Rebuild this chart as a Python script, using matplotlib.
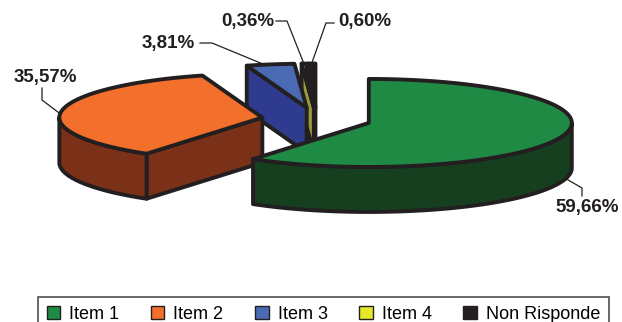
import numpy as np
import matplotlib.pyplot as plt
from matplotlib.patches import Polygon, Patch

labels = ['Item 1', 'Item 2', 'Item 3', 'Item 4', 'Non Risponde']
values = [59.66, 35.57, 3.81, 0.36, 0.60]
top_colors = ['#1f8a44', '#f26f2c', '#4a6ab3', '#e6e62a', '#231f20']
side_colors = ['#153f1e', '#7b3117', '#2e3b8f', '#9b9b3a', '#231f20']

# pie geometry, in pixel units of the canvas
CX, CY = 316.5, 119.4
RX, RY = 203.0, 44.0
DEPTH = 45.0
EXPLODE = 0.27
EDGE = '#231f20'
LW = 2.8

# leader lines: anchor angle on the slice, drop below the top rim, elbow points, text position
label_layout = [
    (-14.0, DEPTH, [(582, 188), (582, 196)], (587, 207)),
    (175.0, 0.0, [(42, 100), (42, 88)], (45, 77)),
    (102.0, 0.0, [(212, 43), (200, 43)], (168, 43)),
    (None, 0.0, [(287, 21), (276, 21)], (248, 21)),
    (None, 0.0, [(326, 23), (334, 23)], (365, 21)),
]


def rim(cx, cy, t, drop=0.0):
    t = np.radians(t)
    return np.column_stack([cx + RX * np.cos(t), cy - RY * np.sin(t) + drop])


def add_poly(ax, pts, color, z):
    ax.add_patch(Polygon(pts, closed=True, facecolor=color, edgecolor=EDGE,
                         lw=LW, joinstyle='round', zorder=z))


fig = plt.figure(figsize=(6.22, 3.22), dpi=100)
ax = fig.add_axes([0, 0, 1, 1])
ax.set_xlim(0, 622)
ax.set_ylim(322, 0)
ax.axis('off')

total = float(sum(values))
bounds = 90 - 360 * np.concatenate([[0], np.cumsum(values)]) / total
slices = []
for i in range(len(values)):
    t1, t2 = bounds[i], bounds[i + 1]
    mid = (t1 + t2) / 2
    cx = CX + EXPLODE * RX * np.cos(np.radians(mid))
    cy = CY - EXPLODE * RY * np.sin(np.radians(mid))
    slices.append((i, t1, t2, mid, cx, cy))

# back slices first
order = sorted(slices, key=lambda s: -np.sin(np.radians(s[3])))
for k, (i, t1, t2, mid, cx, cy) in enumerate(order):
    z = 2 + 3 * k
    centre = np.array([[cx, cy]])
    centre_low = np.array([[cx, cy + DEPTH]])

    # cut faces turned towards the viewer
    if np.cos(np.radians(t1)) < 0:
        quad = np.vstack([centre, rim(cx, cy, [t1]), rim(cx, cy, [t1], DEPTH), centre_low])
        add_poly(ax, quad, side_colors[i], z)
    if np.cos(np.radians(t2)) > 0:
        quad = np.vstack([centre, rim(cx, cy, [t2]), rim(cx, cy, [t2], DEPTH), centre_low])
        add_poly(ax, quad, side_colors[i], z)

    # outer wall on the front half
    ts = np.linspace(t2, t1, 400)
    front = np.sin(np.radians(ts)) < 0
    if front.any():
        idx = np.where(front)[0]
        runs = np.split(idx, np.where(np.diff(idx) > 1)[0] + 1)
        for run in runs:
            tr = ts[run]
            wall = np.vstack([rim(cx, cy, tr), rim(cx, cy, tr[::-1], DEPTH)])
            add_poly(ax, wall, side_colors[i], z + 1)

    # top face
    arc = rim(cx, cy, np.linspace(t1, t2, 300))
    add_poly(ax, np.vstack([centre, arc]), top_colors[i], z + 2)

# percentage labels with leader lines
for (i, t1, t2, mid, cx, cy), (ang, drop, elbow, txt) in zip(slices, label_layout):
    a = mid if ang is None else ang
    anchor = rim(cx, cy, [a], drop)[0]
    path = np.vstack([anchor, elbow])
    ax.plot(path[:, 0], path[:, 1], color=EDGE, lw=0.9, zorder=40)
    ax.text(txt[0], txt[1], ('%.2f%%' % values[i]).replace('.', ','),
            ha='center', va='center', fontsize=13.5, fontweight='bold',
            family='Liberation Sans', color=EDGE, zorder=41)

handles = [Patch(facecolor=c, edgecolor=EDGE, lw=1.0) for c in top_colors]
leg = fig.legend(handles, labels, ncol=5, loc='upper center',
                 bbox_to_anchor=(0.52, 0.078), borderaxespad=0.0,
                 frameon=True, fancybox=False,
                 edgecolor=EDGE, handlelength=0.75, handleheight=0.75,
                 handletextpad=0.5, columnspacing=1.75, borderpad=0.5,
                 prop={'family': 'Liberation Sans', 'size': 13})
leg.get_frame().set_linewidth(1.2)

fig.savefig('out.png', dpi=100, facecolor='white')
